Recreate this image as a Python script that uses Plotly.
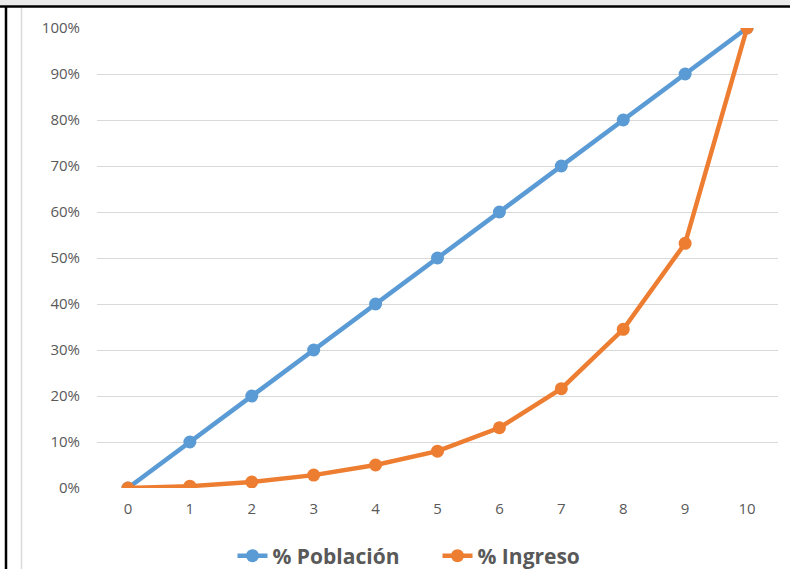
import plotly.graph_objects as go

deciles = [0, 1, 2, 3, 4, 5, 6, 7, 8, 9, 10]
poblacion = [0.0, 0.10, 0.20, 0.30, 0.40, 0.50, 0.60, 0.70, 0.80, 0.90, 1.00]
ingreso = [0.0, 0.004, 0.013, 0.028, 0.050, 0.080, 0.131, 0.216, 0.345, 0.532, 1.00]

W, H = 790, 569
L, R, T, B = 97, 12, 28, 81
pw, ph = W - L - R, H - T - B


def px(x):
    return (x - L) / pw


def py(y):
    return 1 - (y - T) / ph


fig = go.Figure()
fig.add_trace(go.Scatter(
    x=deciles, y=poblacion, name="% Población", mode="lines+markers",
    line={"color": "#5B9BD5", "width": 4.5},
    marker={"color": "#5B9BD5", "size": 13},
))
fig.add_trace(go.Scatter(
    x=deciles, y=ingreso, name="% Ingreso", mode="lines+markers",
    line={"color": "#ED7D31", "width": 4.5},
    marker={"color": "#ED7D31", "size": 13},
))

shapes = [
    # grey strip at top + black frame lines (cropped window)
    dict(type="line", xref="paper", yref="paper", x0=px(0), x1=px(W), y0=py(2.5), y1=py(2.5),
         line={"color": "#EBEBEB", "width": 6}),
    dict(type="line", xref="paper", yref="paper", x0=px(0), x1=px(W), y0=py(6.5), y1=py(6.5),
         line={"color": "black", "width": 2.5}),
    dict(type="line", xref="paper", yref="paper", x0=px(6), x1=px(6), y0=py(6), y1=py(H),
         line={"color": "black", "width": 2.5}),
    dict(type="line", xref="paper", yref="paper", x0=px(21.5), x1=px(21.5), y0=py(8), y1=py(H),
         line={"color": "#D9D9D9", "width": 1.5}),
]

fig.update_layout(
    width=W, height=H,
    margin={"l": L, "r": R, "t": T, "b": B, "autoexpand": False},
    paper_bgcolor="white", plot_bgcolor="white",
    font={"family": "Open Sans, Liberation Sans, sans-serif", "color": "#595959", "size": 15},
    showlegend=True,
    legend={"orientation": "h", "x": 0.5, "xanchor": "center", "y": py(556), "yanchor": "middle",
            "font": {"size": 21, "color": "#595959", "family": "Open Sans, sans-serif", "weight": "bold"},
            "entrywidth": 160},
    shapes=shapes,
)
fig.update_xaxes(range=[-0.5, 10.5], tickmode="array", tickvals=deciles, showgrid=False,
                 zeroline=False, showline=False, ticks="", ticklabelstandoff=10)
fig.update_yaxes(range=[0, 1], dtick=0.1, tickformat=".0%", showgrid=True, gridcolor="#D9D9D9",
                 gridwidth=1, zeroline=False, showline=False, ticks="", ticklabelstandoff=16)

fig.write_html("out.html", config={"displayModeBar": False},
               post_script="document.body.style.margin='0px';document.body.style.overflow='hidden';")
